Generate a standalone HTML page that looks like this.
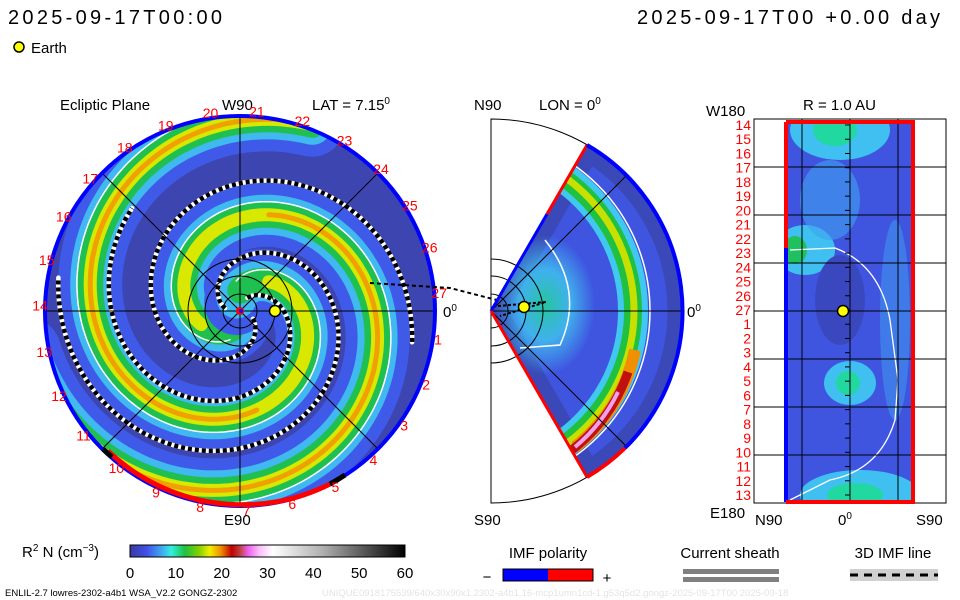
<!DOCTYPE html>
<html><head><meta charset="utf-8"><style>
body{margin:0;background:#fff;}
svg{display:block;font-family:"Liberation Sans","DejaVu Sans",sans-serif;}
</style></head><body>
<svg id="chart" width="960" height="600" viewBox="0 0 960 600" xmlns="http://www.w3.org/2000/svg">
<defs>
<clipPath id="discClip"><circle cx="240" cy="311" r="194"/></clipPath>
<clipPath id="wedgeClip"><path d="M491,311 L587,145 A192,192 0 0,1 587,477 Z"/></clipPath>
<clipPath id="rectClip"><rect x="786" y="122" width="127" height="380"/></clipPath>
<linearGradient id="cbar" x1="0" x2="1" y1="0" y2="0">
<stop offset="0" stop-color="#3a3aa0"/><stop offset="0.06" stop-color="#4050e8"/><stop offset="0.12" stop-color="#40b0f0"/><stop offset="0.15" stop-color="#30f0e0"/><stop offset="0.2" stop-color="#20c040"/><stop offset="0.25" stop-color="#80d000"/><stop offset="0.29" stop-color="#f0f000"/><stop offset="0.33" stop-color="#f09000"/><stop offset="0.37" stop-color="#c00000"/><stop offset="0.4" stop-color="#c04040"/><stop offset="0.43" stop-color="#f060f0"/><stop offset="0.47" stop-color="#f8c0f8"/><stop offset="0.52" stop-color="#ffffff"/><stop offset="0.7" stop-color="#b0b0b0"/><stop offset="1" stop-color="#000000"/>
</linearGradient>
<radialGradient id="blobR" cx="0.5" cy="0.5" r="0.5"><stop offset="0" stop-color="#20e090"/><stop offset="0.5" stop-color="#40c8f0"/><stop offset="1" stop-color="#40c8f0" stop-opacity="0"/></radialGradient>
</defs>

<text x="8" y="24" font-size="20" textLength="214" fill="#000">2025-09-17T00:00</text>
<text x="637" y="24" font-size="20" textLength="303" fill="#000">2025-09-17T00 +0.00 day</text>
<circle cx="19" cy="47" r="5" fill="#ffff00" stroke="#000" stroke-width="1.5"/>
<text x="31" y="53" font-size="15">Earth</text>

<g>
<text x="60" y="110" font-size="15">Ecliptic Plane</text>
<text x="222" y="110" font-size="15">W90</text>
<text x="312" y="110" font-size="15">LAT = 7.15<tspan font-size="10" dy="-6">0</tspan></text>
<circle cx="240" cy="311" r="194" fill="#3d45b0"/>
<g id="spirals" clip-path="url(#discClip)"></g>
<g id="disc-grid" stroke="#000" stroke-width="1" fill="none">
<line x1="45" y1="311" x2="435" y2="311"/><line x1="240" y1="116" x2="240" y2="506"/>
<line x1="102" y1="173" x2="378" y2="449"/><line x1="102" y1="449" x2="378" y2="173"/>
<circle cx="240" cy="311" r="17"/><circle cx="240" cy="311" r="35"/><circle cx="240" cy="311" r="52"/>
</g>
<circle cx="240" cy="311" r="195" fill="none" stroke="#0000ff" stroke-width="4"/>
<path d="M108,451 A195,195 0 0,0 330,484" fill="none" stroke="#ff0000" stroke-width="5"/>
<path d="M330,484 A195,195 0 0,0 345,475" fill="none" stroke="#000" stroke-width="5"/>
<path d="M103,449 A195,195 0 0,0 112,457" fill="none" stroke="#000" stroke-width="5"/>
<circle cx="240" cy="311" r="4" fill="#ff0000"/><circle cx="241" cy="311" r="2" fill="#0000ff"/>
<circle cx="275" cy="311" r="5.5" fill="#ffff00" stroke="#000" stroke-width="1.5"/>
<g id="day-labels" font-size="14" fill="#ff0000" text-anchor="middle"></g>
<text x="443" y="317" font-size="15">0<tspan font-size="10" dy="-6">0</tspan></text>
<text x="224" y="525" font-size="15">E90</text>
</g>
<path d="M370,283 L450,288 L524,307" fill="none" stroke="#000" stroke-width="2" stroke-dasharray="4,3"/>

<g>
<text x="474" y="110" font-size="15">N90</text>
<text x="539" y="110" font-size="15">LON = 0<tspan font-size="10" dy="-6">0</tspan></text>
<path d="M491,119 A192,192 0 0,1 491,503 Z" fill="none" stroke="#000" stroke-width="1"/>
<path d="M491,311 L587,145 A192,192 0 0,1 587,477 Z" fill="#3f55e0"/>
<g clip-path="url(#wedgeClip)">
<path d="M491,311 L587,145 A192,192 0 0,1 587,477 Z" fill="none" stroke="#3a48b8" stroke-width="30"/>
<ellipse cx="545" cy="305" rx="50" ry="70" fill="url(#blobR)" opacity="0.8"/>
<circle cx="470" cy="311" r="163" fill="none" stroke="#40c8f0" stroke-width="30"/>
<circle cx="470" cy="311" r="163" fill="none" stroke="#20c040" stroke-width="18"/>
<circle cx="470" cy="311" r="164" fill="none" stroke="#c8e000" stroke-width="7"/>
<path d="M635,350 A165,165 0 0,1 575,447" fill="none" stroke="#f09000" stroke-width="12"/>
<path d="M628,372 A165,165 0 0,1 572,450" fill="none" stroke="#c01010" stroke-width="9"/>
<path d="M618,392 A165,165 0 0,1 575,447" fill="none" stroke="#f0a0f0" stroke-width="4"/>
<circle cx="472" cy="311" r="178" fill="none" stroke="#fff" stroke-width="1.5"/>
<path d="M545,240 Q585,290 560,345 L520,348" fill="none" stroke="#fff" stroke-width="1.5"/>
</g>
<g stroke="#000" stroke-width="1" fill="none">
<line x1="491" y1="311" x2="683" y2="311"/><line x1="491" y1="311" x2="627" y2="175"/><line x1="491" y1="311" x2="627" y2="447"/>
<path d="M491,294 A17,17 0 0,1 491,328"/><path d="M491,276 A35,35 0 0,1 491,346"/><path d="M491,259 A52,52 0 0,1 491,363"/>
</g>
<path d="M491,311 L547,214" fill="none" stroke="#0000ff" stroke-width="3"/>
<path d="M547,214 L587,145" stroke="#ff0000" stroke-width="3"/>
<path d="M491,311 L587,477" stroke="#ff0000" stroke-width="3"/>
<path d="M587,145 A192,192 0 0,1 625,448" fill="none" stroke="#0000ff" stroke-width="4"/>
<path d="M625,448 A192,192 0 0,1 587,477" fill="none" stroke="#ff0000" stroke-width="4"/>
<path d="M498,306 L546,302 L500,316" fill="none" stroke="#000" stroke-width="2" stroke-dasharray="3,2"/>
<circle cx="524" cy="307" r="5.5" fill="#ffff00" stroke="#000" stroke-width="1.5"/>
<text x="687" y="317" font-size="15">0<tspan font-size="10" dy="-6">0</tspan></text>
<text x="474" y="525" font-size="15">S90</text>
</g>

<g>
<text x="803" y="110" font-size="15">R = 1.0 AU</text>
<text x="706" y="116" font-size="15">W180</text>
<text x="710" y="518" font-size="15">E180</text>
<text x="755" y="525" font-size="15">N90</text>
<text x="838" y="525" font-size="15">0<tspan font-size="10" dy="-6">0</tspan></text>
<text x="916" y="525" font-size="15">S90</text>
<rect x="754" y="119" width="192" height="384" fill="none" stroke="#000" stroke-width="1"/>
<g clip-path="url(#rectClip)">
<rect x="786" y="122" width="127" height="380" fill="#3f55e0"/>
<ellipse cx="840" cy="130" rx="50" ry="30" fill="#40c0f0"/>
<ellipse cx="835" cy="130" rx="22" ry="16" fill="#20d8a0"/>
<ellipse cx="805" cy="250" rx="30" ry="25" fill="#40c0f0"/>
<ellipse cx="795" cy="250" rx="12" ry="14" fill="#20c060"/>
<ellipse cx="850" cy="383" rx="26" ry="22" fill="#40c0f0"/>
<ellipse cx="848" cy="383" rx="12" ry="12" fill="#20d8a0"/>
<ellipse cx="860" cy="495" rx="60" ry="25" fill="#40c0f0"/>
<ellipse cx="855" cy="495" rx="28" ry="12" fill="#20d8a0"/>
<ellipse cx="840" cy="300" rx="25" ry="45" fill="#3a48c0"/>
<ellipse cx="830" cy="200" rx="30" ry="40" fill="#40a0f0" opacity="0.6"/>
<ellipse cx="895" cy="320" rx="15" ry="100" fill="#40a0f0" opacity="0.5"/>
<path d="M790,250 L835,248 Q880,265 890,320 L898,380 L895,420 Q880,470 830,480 L790,500" fill="none" stroke="#fff" stroke-width="1.3"/>
</g>
<g id="rgrid" stroke="#000" stroke-width="1"></g>
<path d="M786,248 L786,502" stroke="#0000ff" stroke-width="4"/>
<path d="M786,122 L786,248 M786,502 L913,502 L913,122 L786,122" fill="none" stroke="#ff0000" stroke-width="4"/>
<circle cx="843" cy="311" r="5.5" fill="#ffff00" stroke="#000" stroke-width="1.5"/>
<g id="rlabels" font-size="14" fill="#ff0000" text-anchor="end"></g>
</g>

<g>
<text x="22" y="557" font-size="15">R<tspan font-size="10" dy="-6">2</tspan><tspan dy="6"> N (cm</tspan><tspan font-size="10" dy="-6">−3</tspan><tspan dy="6">)</tspan></text>
<rect x="130" y="545" width="275" height="12" fill="url(#cbar)" stroke="#000" stroke-width="1"/>
<g id="cbticks" font-size="15" text-anchor="middle"></g>
</g>
<g>
<text x="548" y="558" font-size="15" text-anchor="middle">IMF polarity</text>
<text x="487" y="582" font-size="15" text-anchor="middle">−</text>
<rect x="503" y="569" width="45" height="12" fill="#0000ff"/><rect x="548" y="569" width="45" height="12" fill="#ff0000"/>
<rect x="503" y="569" width="90" height="12" fill="none" stroke="#000"/>
<text x="607" y="583" font-size="15" text-anchor="middle">+</text>
</g>
<g>
<text x="730" y="558" font-size="15" text-anchor="middle">Current sheath</text>
<rect x="683" y="569" width="96" height="5" fill="#808080"/><rect x="683" y="577" width="96" height="5" fill="#808080"/>
</g>
<g>
<text x="893" y="558" font-size="15" text-anchor="middle">3D IMF line</text>
<rect x="850" y="569" width="88" height="12" fill="#d0d0d0"/>
<line x1="850" y1="575" x2="938" y2="575" stroke="#000" stroke-width="3" stroke-dasharray="8,6"/>
</g>
<text x="5" y="596" font-size="9.5">ENLIL-2.7 lowres-2302-a4b1 WSA_V2.2 GONGZ-2302</text>
<text x="322" y="596" font-size="9.5" fill="#e4e4e4">UNIQUE0918175539/640x30x90x1.2302-a4b1.16-mcp1umn1cd-1.g53q5d2.gongz-2025-09-17T00   2025-09-18</text>
</svg>
<script>
const NS="http://www.w3.org/2000/svg";
const armPhases=[5.0,8.6];
const armMaxR=[215,200];
const dashPhases=[6.3,9.8,7.9];
const dashMaxR=[175,185,150];
const dayLabels=[27,1,2,3,4,5,6,7,8,9,10,11,12,13,14,15,16,17,18,19,20,21,22,23,24,25,26];
const latLabels=[14,15,16,17,18,19,20,21,22,23,24,25,26,27,1,2,3,4,5,6,7,8,9,10,11,12,13];
const cbTicks=[0,10,20,30,40,50,60];
const CX=240,CY=311,B=27;
function spiralPath(phi,r0,r1){let d="";for(let t=phi;t>phi-12;t-=0.04){const r=B*(phi-t);if(r<r0)continue;if(r>r1)break;const x=CX+r*Math.cos(t),y=CY-r*Math.sin(t);d+=(d?"L":"M")+x.toFixed(1)+","+y.toFixed(1);}return d;}
function addPath(g,d,stroke,w,extra){const p=document.createElementNS(NS,"path");p.setAttribute("d",d);p.setAttribute("fill","none");p.setAttribute("stroke",stroke);p.setAttribute("stroke-width",w);p.setAttribute("stroke-linecap","round");if(extra){p.setAttribute("stroke-dasharray",extra);p.setAttribute("stroke-linecap","butt");}g.appendChild(p);return p;}
const sg=document.getElementById("spirals");
armPhases.forEach((ph,i)=>{
const g=document.createElementNS(NS,"g");


sg.appendChild(g);
const m=armMaxR[i];
addPath(g,spiralPath(ph,8,m),"#3f5ae8",64);
addPath(g,spiralPath(ph,12,m),"#40b8f0",40);
addPath(g,spiralPath(ph,20,m),"#20c050",26);
addPath(g,spiralPath(ph,40,m),"#d8e800",13);
addPath(g,spiralPath(ph,100,m),"#f0a000",5);
addPath(g,spiralPath(ph+0.5,30,m),"#fff",1.5);
});
dashPhases.forEach((ph,i)=>{
const g=document.createElementNS(NS,"g");


sg.appendChild(g);
addPath(g,spiralPath(ph,15,dashMaxR[i]),"#fff",4.5);
addPath(g,spiralPath(ph,15,dashMaxR[i]),"#000",4.5,"4,3");
});
const dl=document.getElementById("day-labels");
dayLabels.forEach((d,k)=>{const a=-k*2*Math.PI/27+0.09;const r=200;
const t=document.createElementNS(NS,"text");


t.setAttribute("x",(CX+r*Math.cos(a)).toFixed(1));t.setAttribute("y",(CY-r*Math.sin(a)+5).toFixed(1));t.textContent=d;dl.appendChild(t);});
const rg=document.getElementById("rgrid");
[802,850,898].forEach(x=>{const l=document.createElementNS(NS,"line");l.setAttribute("x1",x);l.setAttribute("x2",x);l.setAttribute("y1",119);l.setAttribute("y2",503);rg.appendChild(l);});
[167,215,263,311,359,407,455].forEach(y=>{const l=document.createElementNS(NS,"line");l.setAttribute("x1",754);l.setAttribute("x2",946);l.setAttribute("y1",y);l.setAttribute("y2",y);rg.appendChild(l);});
const rl=document.getElementById("rlabels");
latLabels.forEach((d,k)=>{const y=125+k*(495-125)/26;
const t=document.createElementNS(NS,"text");


t.setAttribute("x",751);t.setAttribute("y",(y+5).toFixed(1));t.textContent=d;rl.appendChild(t);
const l=document.createElementNS(NS,"line");l.setAttribute("x1",845);l.setAttribute("x2",850);l.setAttribute("y1",y);l.setAttribute("y2",y);rg.appendChild(l);});
const cb=document.getElementById("cbticks");
cbTicks.forEach(v=>{const x=130+v/60*275;
const t=document.createElementNS(NS,"text");


t.setAttribute("x",x);t.setAttribute("y",578);t.textContent=v;cb.appendChild(t);});
</script>
</body></html>
